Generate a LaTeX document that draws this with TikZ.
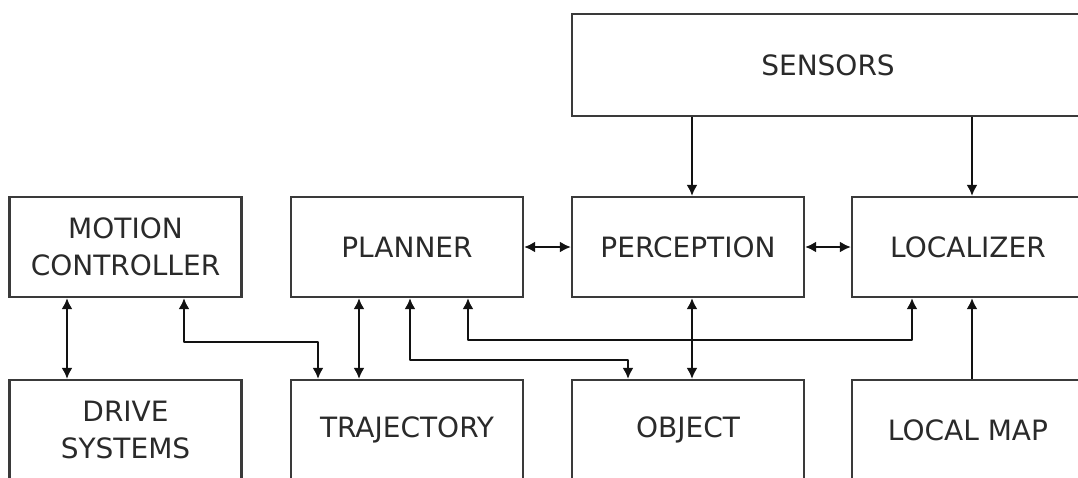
\documentclass[tikz,border=0pt]{standalone}
\usepackage{fontspec}
\setmainfont{DejaVu Sans}
\usetikzlibrary{arrows.meta}
\definecolor{boxgray}{HTML}{3A3A3A}
\definecolor{textgray}{HTML}{2A2A2A}
\definecolor{wire}{HTML}{121212}
\begin{document}
\begin{tikzpicture}[x=1pt,y=-1pt,
  block/.style={draw=boxgray, line width=2.2pt, fill=white, minimum width=232pt,
    minimum height=100pt, inner sep=0pt, align=center, text=textgray,
    font=\fontsize{28}{37}\selectfont},
  both/.style={draw=wire, line width=2.8pt, line join=round,
    {Latex[length=11pt,width=11pt]}-{Latex[length=11pt,width=11pt]}},
  feed/.style={draw=wire, line width=2.8pt, line join=round,
    -{Latex[length=11pt,width=11pt]}}]
\useasboundingbox (0,0) rectangle (1078,477);
\clip (0,0) rectangle (1078,477);

% upper row
\node[block, minimum width=512pt, minimum height=102pt] (sensors) at (828,65) {SENSORS};
\node[block] (mc)         at (125.5,247) {MOTION\\CONTROLLER};
\node[block] (planner)    at (407,247)   {PLANNER};
\node[block] (perception) at (688,247)   {PERCEPTION};
\node[block] (localizer)  at (968,247)   {LOCALIZER};

% lower row
\node[block] (drive)    at (125.5,430) {DRIVE\\SYSTEMS};
\node[block] (traj)     at (407,430)   {TRAJECTORY};
\node[block] (object)   at (688,430)   {OBJECT};
\node[block] (localmap) at (968,430)   {LOCAL MAP};

% sensor feeds
\draw[feed] (sensors.south -| 692,0) -- (perception.north -| 692,0);
\draw[feed] (sensors.south -| 972,0) -- (localizer.north -| 972,0);

% horizontal links in the upper row
\draw[both] (planner.east) -- (perception.west);
\draw[both] (perception.east) -- (localizer.west);

% vertical links
\draw[both] (mc.south -| 67,0) -- (drive.north -| 67,0);
\draw[both] (planner.south -| 359,0) -- (traj.north -| 359,0);
\draw[both] (perception.south -| 692,0) -- (object.north -| 692,0);
\draw[feed] (localmap.north -| 972,0) -- (localizer.south -| 972,0);

% routed links
\draw[both] (mc.south -| 184,0) -- (184,342) -- (318,342) -- (traj.north -| 318,0);
\draw[both] (planner.south -| 410,0) -- (410,360) -- (628,360) -- (object.north -| 628,0);
\draw[both] (planner.south -| 468,0) -- (468,340) -- (912,340) -- (localizer.south -| 912,0);
\end{tikzpicture}
\end{document}
